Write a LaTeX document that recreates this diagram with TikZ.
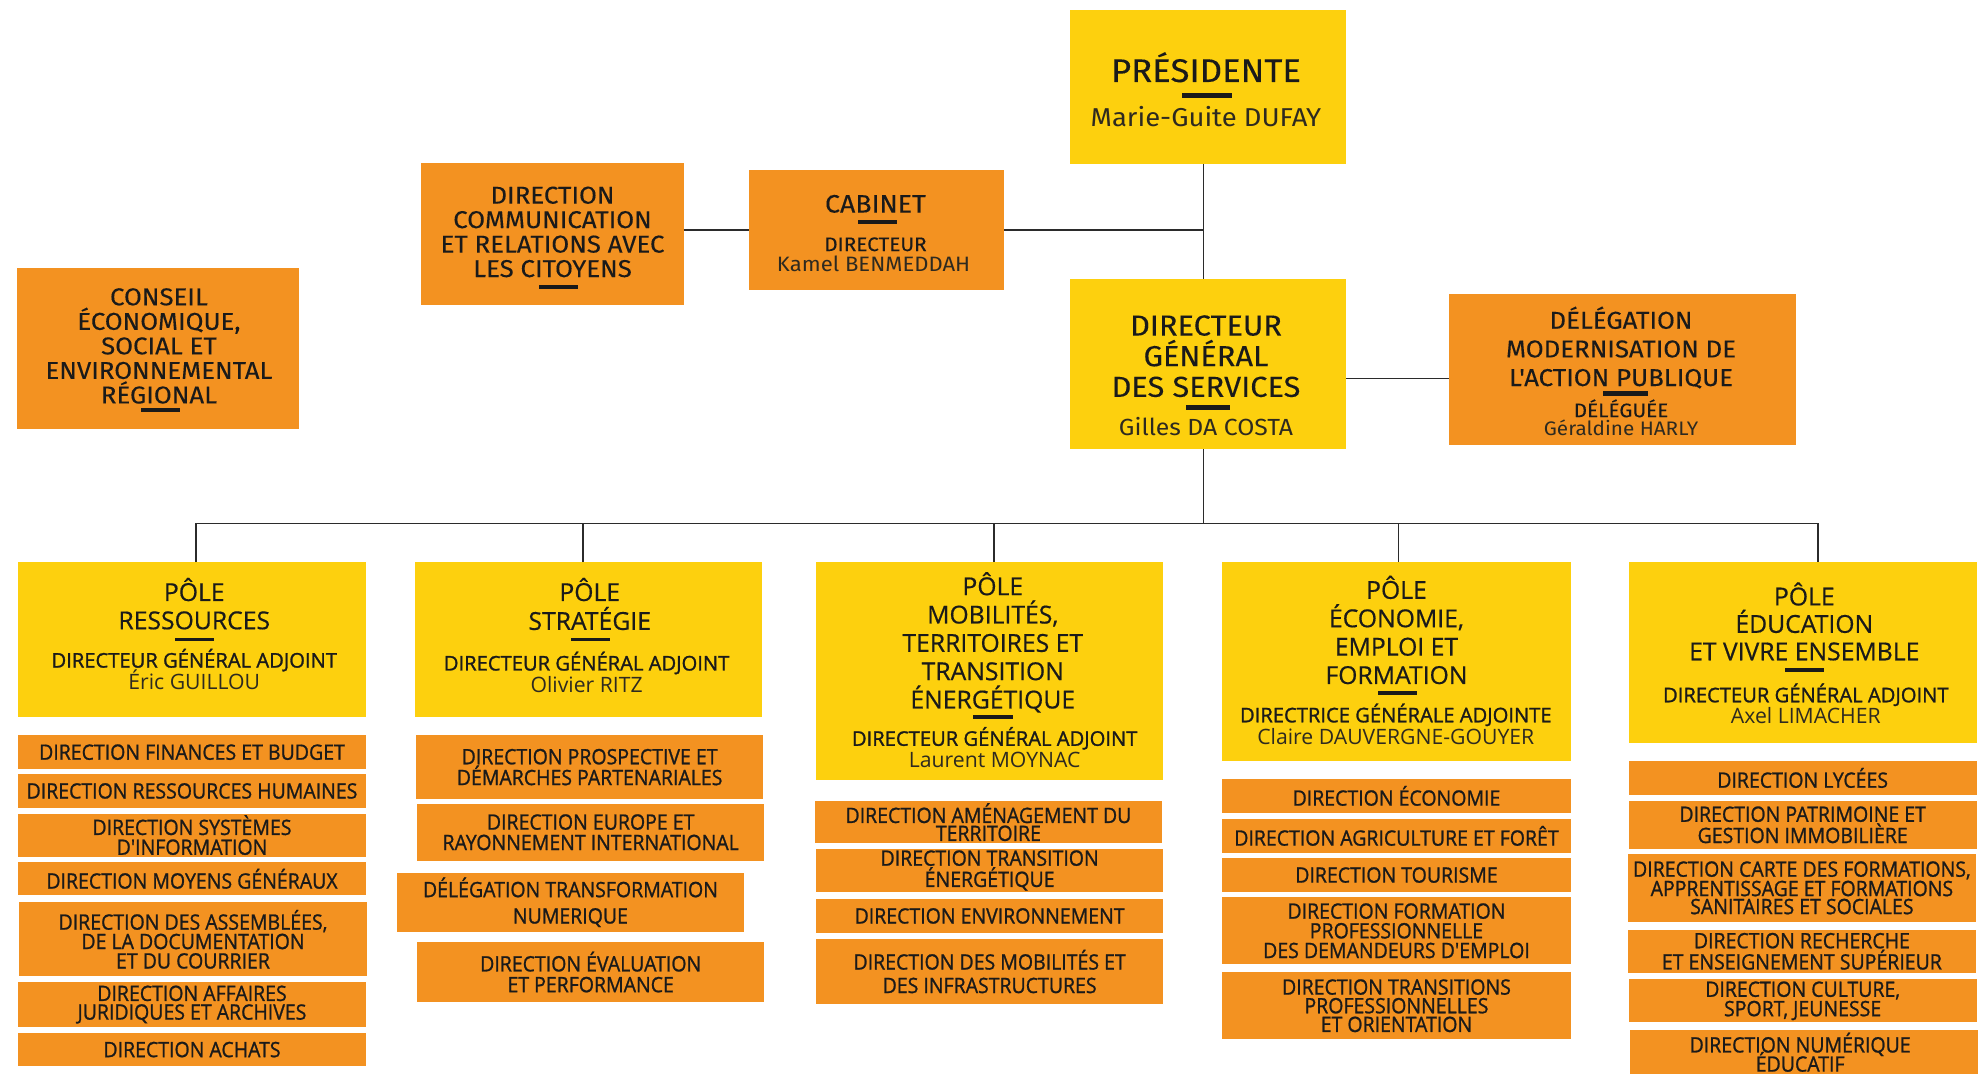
\documentclass[tikz,border=0pt]{standalone}
\usepackage{fontspec}
\setmainfont{Open Sans}
\newfontfamily\topf[FakeStretch=1.06,FakeBold=0.1]{Fira Sans}
\newfontfamily\topnf[FakeStretch=1.06]{Fira Sans}
\newfontfamily\polef[FakeBold=0.5]{Open Sans}
\newfontfamily\namef{Open Sans}
\newfontfamily\subf[FakeBold=1,FakeStretch=0.92]{Open Sans}
\newfontfamily\dgaf[FakeBold=1.3]{Open Sans}
\definecolor{yel}{HTML}{FDD00E}
\definecolor{ora}{HTML}{F39221}
\definecolor{txt}{HTML}{1A1A1A}
\definecolor{ntxt}{HTML}{2E2A20}
\definecolor{linec}{HTML}{2B2B2B}
\newcommand\fz[1]{\fontsize{#1}{#1}\selectfont}
% box: style, name, x0, y0, x1, y1
\newcommand\bx[6]{\node[#1,minimum width={#5-#3},minimum height={#6-#4}] (#2) at (#3,#4) {};}
% bar: name, x, ytop, w, h
\newcommand\barat[5]{\node[barn,minimum width=#4,minimum height=#5] (#1) at (#2,#3) {};}
% multi lines: name, x, y0, dy, font, list
\newcommand\mlines[6]{\foreach \t [count=\i from 0] in {#6} {\node[lbl,font={#5}] (#1-\i) at (#2,{#3+\i*#4}) {\t};}}
% sub box: name, x0, y0, x1, y1, size, lead, text
\newcommand\sbx[8]{\bx{obox}{#1}{#2}{#3}{#4}{#5}\node[stxt,font={\subf\fontsize{#6}{#7}\selectfont}] (#1t) at (#1.center) {#8};}
\begin{document}
\begin{tikzpicture}[x=1pt,y=-1pt,
  ybox/.style={fill=yel,inner sep=0pt,outer sep=0pt,anchor=north west},
  obox/.style={fill=ora,inner sep=0pt,outer sep=0pt,anchor=north west},
  conn/.style={draw=linec,line width=1.5pt},
  barn/.style={fill=txt,inner sep=0pt,outer sep=0pt,anchor=north},
  lbl/.style={anchor=base,inner sep=0pt,text=txt},
  nlbl/.style={anchor=base,inner sep=0pt,text=ntxt},
  stxt/.style={inner sep=0pt,text=txt,align=center}]
\useasboundingbox (0,0) rectangle (1568,851);
\clip (0,0) rectangle (1568,851);
\fill[white] (0,0) rectangle (1568,851);
% ---------- top ----------
\bx{ybox}{pres}{848}{8}{1067}{130}
\node[lbl,font={\topf\fz{26}}] (presT) at (956,65) {PRÉSIDENTE};
\barat{presB}{957}{74}{40}{4}
\node[nlbl,font={\topnf\fz{20.5}}] (presN) at (956,100.5) {Marie-Guite DUFAY};

\bx{obox}{cab}{594}{135}{796}{230}
\node[lbl,font={\topf\fz{20}}] (cabT) at (694,168.5) {CABINET};
\barat{cabB}{695.5}{174.6}{31}{3}
\node[lbl,font={\topf\fz{15.5}}] (cabR) at (694,199) {DIRECTEUR};
\node[nlbl,font={\topnf\fz{16.5}}] (cabN) at (692.5,215.6) {Kamel BENMEDDAH};

\bx{obox}{comm}{334}{129}{542}{242}
\mlines{commT}{438}{161.4}{19.4}{\topf\fz{19.3}}{DIRECTION,COMMUNICATION,ET RELATIONS AVEC,LES CITOYENS}
\barat{commB}{443}{225.7}{31}{3}

\bx{obox}{cons}{13.4}{212.7}{236.7}{340}
\mlines{consT}{126}{242}{19.45}{\topf\fz{19.3}}{CONSEIL,{ÉCONOMIQUE,},SOCIAL ET,ENVIRONNEMENTAL,RÉGIONAL}
\barat{consB}{127}{323.8}{31}{3}

\bx{ybox}{dg}{848}{221}{1067}{356}
\mlines{dgT}{956}{266}{24.3}{\topf\fz{23}}{DIRECTEUR,GÉNÉRAL,DES SERVICES}
\barat{dgB}{957.5}{321.4}{35}{3.6}
\node[nlbl,font={\topnf\fz{18.5}}] (dgN) at (956,345) {Gilles DA COSTA};

\bx{obox}{deleg}{1148.5}{233.3}{1424}{352.9}
\mlines{delT}{1285}{260.6}{22.7}{\topf\fz{19.3}}{DÉLÉGATION,MODERNISATION DE,L'ACTION PUBLIQUE}
\barat{delB}{1288.5}{310}{35.6}{4}
\node[lbl,font={\topf\fz{15.5}}] (delR) at (1285,330.7) {DÉLÉGUÉE};
\node[nlbl,font={\topnf\fz{15.5}}] (delN) at (1285,345) {Géraldine HARLY};

% ---------- connectors ----------
\coordinate (trunk) at (954,0);
\coordinate (dlev) at (0,300);
\coordinate (bus) at (0,415);
\draw[conn] (pres.south -| trunk) -- (dg.north -| trunk);
\draw[conn] (comm.east |- cab.west) -- (cab.west);
\draw[conn] (cab.east) -- (cab.east -| trunk);
\draw[conn] (dg.east |- dlev) -- (deleg.west |- dlev);
\draw[conn] (dg.south -| trunk) -- (trunk |- bus);

% ---------- poles ----------
\bx{ybox}{p1}{14.3}{445.7}{290.1}{568.3}
\bx{ybox}{p2}{329}{445.7}{604}{568.3}
\bx{ybox}{p3}{647}{445.7}{922}{618.7}
\bx{ybox}{p4}{969}{445.7}{1245}{603.6}
\bx{ybox}{p5}{1291}{445.7}{1567}{589.2}

\draw[conn] ([xshift=3pt]p1.north) |- ([xshift=12.3pt]p5.north |- bus) -- ([xshift=12.3pt]p5.north);
\draw[conn] ([xshift=-4.3pt]p2.north) -- ([xshift=-4.3pt]p2.north |- bus);
\draw[conn] ([xshift=3.2pt]p3.north) -- ([xshift=3.2pt]p3.north |- bus);
\draw[conn] ([xshift=1.6pt]p4.north) -- ([xshift=1.6pt]p4.north |- bus);

\def\ptf{\polef\fz{19.6}}
\def\pdf{\dgaf\fz{16}}
\def\pnf{\namef\fz{16.8}}

\mlines{p1t}{154}{476.4}{22.4}{\ptf}{PÔLE,RESSOURCES}
\barat{p1b}{154}{505.4}{31}{3}
\node[lbl,font=\pdf] (p1r) at (154,529.2) {DIRECTEUR GÉNÉRAL ADJOINT};
\node[nlbl,font=\pnf] (p1n) at (154,546.6) {Éric GUILLOU};

\mlines{p2t}{467.5}{476.4}{22.9}{\ptf}{PÔLE,STRATÉGIE}
\barat{p2b}{467.9}{505.4}{31}{3}
\node[lbl,font=\pdf] (p2r) at (465,531.5) {DIRECTEUR GÉNÉRAL ADJOINT};
\node[nlbl,font=\pnf] (p2n) at (465,548.9) {Olivier RITZ};

\mlines{p3t}{787}{471.8}{22.45}{\ptf}{PÔLE,{MOBILITÉS,},TERRITOIRES ET,TRANSITION,ÉNERGÉTIQUE}
\barat{p3b}{787.2}{566.8}{31}{3}
\node[lbl,font=\pdf] (p3r) at (788.5,591.2) {DIRECTEUR GÉNÉRAL ADJOINT};
\node[nlbl,font=\pnf] (p3n) at (788.5,608.6) {Laurent MOYNAC};

\mlines{p4t}{1107}{474.7}{22.5}{\ptf}{PÔLE,{ÉCONOMIE,},EMPLOI ET,FORMATION}
\barat{p4b}{1107.6}{547.7}{31}{3}
\node[lbl,font=\pdf] (p4r) at (1106.5,572.6) {DIRECTRICE GÉNÉRALE ADJOINTE};
\node[nlbl,font=\pnf] (p4n) at (1106.5,590) {Claire DAUVERGNE-GOUYER};

\mlines{p5t}{1430.3}{479.9}{21.75}{\ptf}{PÔLE,ÉDUCATION,ET VIVRE ENSEMBLE}
\barat{p5b}{1430.3}{529.8}{31}{3}
\node[lbl,font=\pdf] (p5r) at (1431.5,556.7) {DIRECTEUR GÉNÉRAL ADJOINT};
\node[nlbl,font=\pnf] (p5n) at (1431.5,573.8) {Axel LIMACHER};

% ---------- sub boxes ----------
\def\ss{16.8}
\sbx{a1}{14.3}{583}{290.1}{609.5}{\ss}{15.5}{DIRECTION FINANCES ET BUDGET}
\sbx{a2}{14.3}{613.8}{290.1}{640.2}{\ss}{15.5}{DIRECTION RESSOURCES HUMAINES}
\sbx{a3}{14.3}{645}{290.1}{679}{\ss}{15.7}{DIRECTION SYSTÈMES\\D'INFORMATION}
\sbx{a4}{14.3}{683.6}{290.1}{709.7}{\ss}{15.5}{DIRECTION MOYENS GÉNÉRAUX}
\sbx{a5}{15}{715.2}{291}{774}{\ss}{15.4}{DIRECTION DES ASSEMBLÉES,\\DE LA DOCUMENTATION\\ET DU COURRIER}
\sbx{a6}{14.3}{778.4}{290.1}{814.3}{\ss}{14.8}{DIRECTION AFFAIRES\\JURIDIQUES ET ARCHIVES}
\sbx{a7}{14.3}{819}{290.1}{845}{\ss}{15.5}{DIRECTION ACHATS}

\sbx{b1}{329.8}{583}{605}{633.2}{\ss}{16.5}{DIRECTION PROSPECTIVE ET\\DÉMARCHES PARTENARIALES}
\sbx{b2}{330.6}{637.3}{605.9}{682.2}{\ss}{16.2}{DIRECTION EUROPE ET\\RAYONNEMENT INTERNATIONAL}
\sbx{b3}{314.8}{691.8}{589.6}{738.7}{\ss}{20.9}{DÉLÉGATION TRANSFORMATION\\NUMERIQUE}
\sbx{b4}{330.6}{746.5}{605.9}{794.6}{\ss}{16.5}{DIRECTION ÉVALUATION\\ET PERFORMANCE}

\sbx{c1}{646.2}{635.2}{920.9}{668.3}{\ss}{14.2}{DIRECTION AMÉNAGEMENT DU\\TERRITOIRE}
\sbx{c2}{647}{673.2}{922}{706.8}{\ss}{15.4}{DIRECTION TRANSITION\\ÉNERGÉTIQUE}
\sbx{c3}{647}{712.9}{922}{739.3}{\ss}{15.5}{DIRECTION ENVIRONNEMENT}
\sbx{c4}{647}{744.2}{922}{796.1}{\ss}{18.6}{DIRECTION DES MOBILITÉS ET\\DES INFRASTRUCTURES}

\sbx{d1}{969}{617.6}{1245}{644.2}{\ss}{15.5}{DIRECTION ÉCONOMIE}
\sbx{d2}{969}{649.4}{1245}{675.8}{\ss}{15.5}{DIRECTION AGRICULTURE ET FORÊT}
\sbx{d3}{969}{680.5}{1245}{706.8}{\ss}{15.5}{DIRECTION TOURISME}
\sbx{d4}{969}{711.2}{1245}{764.5}{\ss}{15.6}{DIRECTION FORMATION\\PROFESSIONNELLE\\DES DEMANDEURS D'EMPLOI}
\sbx{d5}{969}{770.6}{1245}{823.9}{\ss}{14.8}{DIRECTION TRANSITIONS\\PROFESSIONNELLES\\ET ORIENTATION}

\sbx{e1}{1291}{603.4}{1567}{630}{\ss}{15.5}{DIRECTION LYCÉES}
\sbx{e2}{1291}{635}{1567}{672.7}{\ss}{13.9}{DIRECTION PATRIMOINE ET\\GESTION IMMOBILIÈRE}
\sbx{e3}{1290.3}{677}{1566.5}{730.6}{\ss}{14.3}{DIRECTION CARTE DES FORMATIONS,\\APPRENTISSAGE ET FORMATIONS\\SANITAIRES ET SOCIALES}
\sbx{e4}{1290.3}{737}{1566.5}{771.2}{\ss}{14.5}{DIRECTION RECHERCHE\\ET ENSEIGNEMENT SUPÉRIEUR}
\sbx{e5}{1291}{776.4}{1567}{810.3}{\ss}{13.6}{DIRECTION CULTURE,\\SPORT, JEUNESSE}
\bx{obox}{e6}{1291.8}{816.7}{1567.8}{858}
\mlines{e6t}{1427}{834.3}{15.2}{\subf\fz{\ss}}{DIRECTION NUMÉRIQUE,ÉDUCATIF}
\end{tikzpicture}
\end{document}
